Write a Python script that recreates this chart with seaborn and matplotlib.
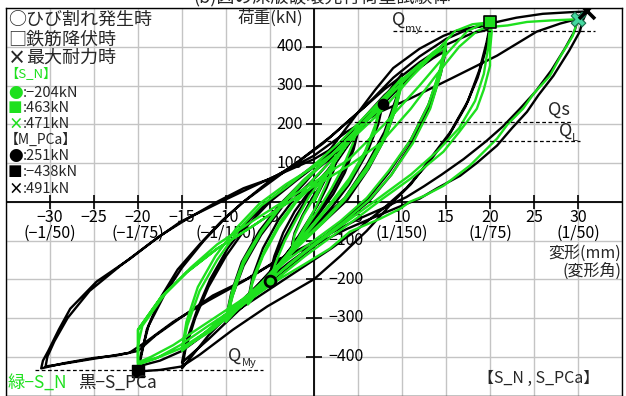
import numpy as np
import pandas as pd
import matplotlib
matplotlib.use("Agg")
import matplotlib.pyplot as plt
from matplotlib.transforms import offset_copy
import seaborn as sns

# ---- S_PCa (black): (displacement mm, load kN) along the loading history
pca_small = [(0, 0), (1, 45), (2, 90), (2.6, 115), (2.3, 85), (1.4, 35), (0.4, -10), (-0.7, -50),
             (-1.8, -90), (-2.5, -110), (-2.2, -80), (-1.3, -35), (-0.2, 10),
             (1, 50), (2.5, 100), (4, 150), (5, 185), (4.4, 140), (3.3, 80), (2, 25), (0.5, -25),
             (-1, -70), (-2.5, -115), (-4, -160), (-5, -190), (-4.4, -145), (-3.3, -90), (-2, -35),
             (-0.5, 20), (1.2, 65), (2.8, 115), (4.2, 160), (5, 180), (4.5, 135), (3.5, 75),
             (2.2, 20), (0.6, -30), (-1.2, -80), (-2.8, -125), (-4.2, -165), (-5, -185),
             (-4.5, -140), (-3.5, -80), (-2.2, -25), (-0.6, 25),
             (1.5, 80), (3.5, 140), (5.5, 195), (7, 235), (7.8, 251), (7.3, 200), (6, 125), (4, 45),
             (2, -15), (0, -65), (-2.5, -125), (-5, -190), (-7.5, -255), (-7, -195), (-5.8, -120),
             (-4, -45), (-2, 15)]
pca_mid = [(0.5, 70), (3, 135), (6, 215), (8.5, 285), (10, 330), (9.3, 265), (8, 180), (6, 95),
           (3.5, 10), (1, -45), (-2, -110), (-5, -180), (-8, -255), (-10, -310), (-9.3, -245),
           (-8, -165), (-6, -85), (-3.5, -10), (-1, 50),
           (2, 130), (5, 200), (8, 275), (10, 315), (9.4, 250), (8.2, 170), (6.2, 85), (3.8, 5),
           (1.2, -50), (-2, -115), (-5, -185), (-8, -250), (-10, -300), (-9.4, -235), (-8.2, -155),
           (-6.2, -75), (-3.8, -5), (-1.2, 55),
           (2, 115), (5, 185), (8, 255), (11, 325), (13.5, 375), (15, 400), (14.3, 335), (13, 250),
           (11, 160), (8.5, 75), (6, 5), (3, -55), (0, -110), (-3, -160), (-6, -215), (-9, -275),
           (-12, -345), (-15, -430), (-14.6, -380), (-13.5, -300), (-12, -220), (-10, -140),
           (-7.5, -60), (-5, 0), (-2, 55),
           (2, 125), (5, 195), (8, 265), (11, 330), (13.5, 370), (15, 390), (14.4, 330), (13.2, 245),
           (11.2, 155), (8.8, 70), (6.2, 0), (3, -60), (0, -115), (-3, -170), (-6, -225), (-9, -290),
           (-12, -355), (-15, -415), (-14.5, -360), (-13.3, -280), (-11.8, -200), (-9.8, -120),
           (-7.3, -45), (-5, 5), (-2, 60)]
pca_20 = [(1, 110), (4, 200), (7, 290), (9, 345), (12, 395), (14.7, 428), (16.2, 441), (18.5, 452),
          (20, 455), (19.6, 410), (18.8, 340), (17.5, 260), (15.5, 180), (13, 105), (11, 45), (9, 0),
          (6, -75), (3, -140), (0, -200), (-5.3, -270), (-9.2, -330), (-13, -395), (-15, -425),
          (-17.5, -434), (-20, -438),
          (-19.6, -395), (-19, -330), (-17.5, -250), (-15.5, -175), (-13, -110), (-10.5, -50),
          (-8, 0), (-5, 55), (-2, 100), (1, 150), (4, 210), (8, 290), (12, 360), (15, 405),
          (18, 435), (20, 445),
          (19.5, 390), (18.6, 320), (17.2, 245), (15.3, 170), (13, 100), (10.5, 35), (8, -15),
          (5, -70), (2, -120), (-1, -165), (-4, -210), (-8, -270), (-12, -335), (-15, -385),
          (-17.5, -410), (-20, -425),
          (-19.5, -380), (-18.8, -320), (-17, -240), (-15, -170), (-12.5, -100), (-10, -40),
          (-8, 0), (-5, 50), (-2, 100), (2, 170), (6, 250), (9, 320), (12, 375), (15, 420),
          (17.5, 445)]
pca_30 = [(20.8, 464), (23, 475), (26, 485), (29, 489), (31, 491),
          (30.5, 465), (30.2, 439), (29, 390), (27.2, 325), (25.5, 275), (24.2, 232), (22.5, 190),
          (20.8, 145), (18.5, 100), (16.6, 67), (14, 35), (12, 8), (10, -10), (8.3, -26), (6, -48),
          (3.75, -70), (0, -113), (-3.9, -147), (-7.6, -199), (-11.5, -242), (-15.2, -300),
          (-18, -345), (-20, -385), (-22.5, -397), (-25, -403), (-28.5, -417), (-31, -430),
          (-30.8, -410), (-30.2, -385), (-29, -330), (-27.7, -276), (-24.7, -206), (-20.9, -147),
          (-17.5, -88), (-14.4, -44), (-11, 0), (-8, 35), (-5, 59), (0, 119), (3.75, 181),
          (7.5, 232), (10.9, 266), (15.5, 317), (20.8, 377), (25.3, 439), (28, 460), (30, 472),
          (29.6, 440), (28.5, 395), (27, 340), (25.2, 285), (23.4, 240), (21.5, 195), (19.5, 155),
          (17, 110), (14.5, 70), (12.5, 40), (10.5, 12), (8, -15), (5, -45), (2, -80), (-1, -115),
          (-4, -150), (-8, -205), (-12, -255), (-16, -310), (-19, -360), (-21, -390), (-25, -405),
          (-29, -420), (-30.5, -425),
          (-30.3, -400), (-29.5, -360), (-28, -300), (-25.5, -230), (-22, -165), (-18.5, -105),
          (-15.2, -52), (-10.3, 3), (-5, 60), (0, 110), (3, 150)]

# ---- S_N (green)
sn_small = [(0, 0), (1, 50), (2, 95), (2.5, 120), (2.2, 90), (1.3, 40), (0.3, -10), (-0.8, -55),
            (-1.8, -95), (-2.5, -120), (-2.2, -85), (-1.2, -35), (0, 10),
            (1, 55), (2.5, 110), (4, 160), (5, 195), (4.4, 150), (3.3, 90), (2, 35), (0.5, -20),
            (-1, -70), (-2.5, -120), (-4, -170), (-5, -204), (-4.4, -160), (-3.3, -100), (-2, -45),
            (-0.5, 15),
            (1.5, 75), (3.5, 140), (5.5, 200), (7.5, 250), (7, 200), (5.8, 130), (4, 60), (2, 0),
            (0, -55), (-2.5, -120), (-5, -190), (-7.5, -265), (-7, -210), (-5.8, -140), (-4, -65),
            (-2, 0),
            (1.8, 85), (3.8, 150), (5.8, 205), (7.5, 240), (6.9, 185), (5.6, 115), (3.8, 45),
            (1.8, -10), (-0.2, -65), (-2.7, -130), (-5.2, -200), (-7.5, -255), (-6.9, -195),
            (-5.6, -125), (-3.8, -50), (-1.8, 10)]
sn_mid = [(0, 60), (3, 130), (6, 210), (8.5, 280), (10, 320), (9.2, 250), (8, 170), (6, 90),
          (3.5, 10), (1, -50), (-2, -115), (-5, -185), (-8, -260), (-10, -310), (-9.2, -240),
          (-8, -160), (-6, -80), (-3.5, -5), (-1, 55),
          (2, 120), (5, 190), (8, 265), (10, 305), (9.3, 240), (8, 160), (6, 80), (3.5, 5), (1, -55),
          (-2, -120), (-5, -190), (-8, -255), (-10, -300), (-9.3, -230), (-8, -150), (-6, -75),
          (-3.5, 0),
          (-1, 60), (2, 120), (5, 190), (8, 260), (11, 330), (13.5, 385), (15, 410), (14.3, 340),
          (13, 250), (11, 160), (8.5, 80), (6, 10), (3, -50), (0, -100), (-3, -150), (-6, -210),
          (-9, -270), (-12, -330), (-15, -385), (-14.4, -320), (-13, -230), (-11, -150),
          (-8.5, -70), (-6, -10), (-3, 40),
          (0, 95), (3, 155), (6, 225), (9, 295), (12, 355), (15, 400), (14.4, 330), (13.2, 240),
          (11.2, 150), (8.8, 70), (6.3, 5), (3.2, -55), (0.2, -105), (-2.8, -160), (-5.8, -220),
          (-8.8, -280), (-11.8, -335), (-15, -380), (-14.5, -310), (-13.2, -220), (-11.2, -140),
          (-8.7, -65), (-6.2, -5), (-3.2, 45)]
sn_20 = [(0, 90), (3.75, 150), (7.5, 230), (11, 320), (14, 390), (16, 440), (18, 458), (20, 463),
         (20.2, 439), (20, 390), (20, 351), (19.3, 290), (18.5, 240), (16.5, 180), (14.7, 129),
         (11, 60), (7.8, 8), (5, -40), (2, -90), (-1, -140), (-4, -195), (-8, -260), (-12, -320),
         (-15.2, -370), (-18, -405), (-20, -420),
         (-20, -380), (-20, -330), (-17.5, -250), (-14.4, -181), (-11, -121), (-6.9, -62),
         (-3.5, -10), (0, 40), (3.75, 90), (7.5, 150), (11, 240), (14, 330), (16.5, 400),
         (18.5, 440), (20, 455),
         (19.8, 400), (19.3, 330), (18.3, 260), (16.5, 190), (14, 130), (11, 70), (8, 20), (5, -30),
         (2, -80), (-1, -130), (-4, -185), (-8, -250), (-12, -310), (-16, -370), (-18.5, -400),
         (-20, -415),
         (-20, -370), (-19.5, -320), (-17, -240), (-14, -170), (-11, -110), (-7, -50), (-3.5, 0),
         (0, 50), (4, 110), (8, 200), (12, 300), (15, 380), (17.4, 440), (19, 458), (20.5, 452)]
sn_30 = [(22, 455), (24.2, 464), (27, 468), (30, 471),
         (29.4, 428), (28, 375), (26.8, 325), (25, 280), (23.75, 240), (22, 200), (20.8, 163),
         (17.7, 93), (14.7, 41), (12.5, 15), (10.9, 0), (9.8, -18), (7.5, -44), (4.1, -77),
         (1.8, -121), (-1, -160), (-3.9, -199), (-6.5, -240), (-9.5, -290), (-12.5, -340),
         (-15.2, -379), (-17.5, -400), (-19.4, -413), (-20, -423),
         (-20, -380), (-20, -330), (-17.5, -250), (-14.4, -181), (-11, -121), (-6.9, -62),
         (-3.5, -10), (-1, 25)]

# ---- characteristic points (displacement mm, load kN)
crack_sn, crack_pca = (-5, -204), (7.8, 251)
yield_sn, yield_pca = (20, 463), (-20, -438)
max_sn, max_pca = (30, 471), (31, 491)

# ---- reference load levels (kN) and their displacement spans (mm)
level_loads = [440, 207, 157, -434]
level_x0 = [9.0, 3.9, 1.5, -31.7]
level_x1 = [31.9, 29.4, 30.2, -5.8]

# ---- axis ticks and labels
x_ticks = [-30, -25, -20, -15, -10, -5, 5, 10, 15, 20, 25, 30]
x_angle = {-30: "(−1/50)", -20: "(−1/75)", -10: "(−1/150)",
           10: "(1/150)", 20: "(1/75)", 30: "(1/50)"}
y_ticks = [-400, -300, -200, -100, 100, 200, 300, 400]

GREEN = "#1ee01e"
W, H = 626, 396

sns.set_style("white")
plt.rcParams["font.family"] = ["Noto Sans CJK JP", "DejaVu Sans"]
plt.rcParams["axes.unicode_minus"] = True

fig = plt.figure(figsize=(W / 100, H / 100), dpi=100)
ax = fig.add_axes([6 / W, 0.5 / H, 616 / W, 387.5 / H])
ax.set_xlim(-35, 35)
ax.set_ylim(-500, 500)

ax.set_xticks(np.arange(-35, 36, 5))
ax.set_yticks(np.arange(-500, 501, 100))
ax.grid(True, color="#c4c4c4", lw=1.0)
ax.set_axisbelow(True)
ax.tick_params(length=0, labelbottom=False, labelleft=False)
for s in ax.spines.values():
    s.set_color("black")
    s.set_linewidth(1.0)

# central axes with crossing tick marks
ax.axhline(0, color="black", lw=1.3, zorder=1.5)
ax.axvline(0, color="black", lw=1.3, zorder=1.5)
ax.plot(x_ticks, [0] * len(x_ticks), ls="none", marker="|", ms=9.5, mew=1.2,
        color="black", zorder=1.5)
ax.plot([0] * len(y_ticks), y_ticks, ls="none", marker="_", ms=12, mew=1.2,
        color="black", zorder=1.5)

tick_font = dict(size=11.5, color="black", zorder=1)
for v in x_ticks:
    lab = f"−{abs(v)}" if v < 0 else f"{v}"
    tr = offset_copy(ax.transData, fig=fig, x=0, y=-16, units="dots")
    ax.text(v, 0, lab, transform=tr, ha="center", va="center", **tick_font)
    if v in x_angle:
        tr2 = offset_copy(ax.transData, fig=fig, x=0, y=-32, units="dots")
        ax.text(v, 0, x_angle[v], transform=tr2, ha="center", va="center", **tick_font)
for v in y_ticks:
    if v > 0:
        tr = offset_copy(ax.transData, fig=fig, x=-11, y=0, units="dots")
        ax.text(0, v, f"{v}", transform=tr, ha="right", va="center", **tick_font)
    else:
        tr = offset_copy(ax.transData, fig=fig, x=14, y=0, units="dots")
        ax.text(0, v, f"−{abs(v)}", transform=tr, ha="left", va="center", **tick_font)

# hysteresis curves
pca_path = pca_small + pca_mid + pca_20 + pca_30
sn_path = sn_small + sn_mid + sn_20 + sn_30
df = pd.concat([
    pd.DataFrame(pca_path, columns=["disp", "load"]).assign(specimen="S_PCa"),
    pd.DataFrame(sn_path, columns=["disp", "load"]).assign(specimen="S_N"),
], ignore_index=True)
sns.lineplot(data=df, x="disp", y="load", hue="specimen",
             hue_order=["S_PCa", "S_N"], palette={"S_PCa": "black", "S_N": GREEN},
             sort=False, estimator=None, lw=1.7, legend=False, ax=ax, zorder=2)
ax.set_xlabel("")
ax.set_ylabel("")

# reference load levels
for x0, x1, q in zip(level_x0, level_x1, level_loads):
    ax.plot([x0, x1], [q, q], color="black", lw=0.9, ls=(0, (3, 2)), zorder=3)

# characteristic points
ax.scatter(*crack_pca, s=55, color="black", zorder=5)
ax.scatter(*crack_sn, s=60, facecolor=GREEN, edgecolor="black", lw=2, zorder=5)
ax.scatter(*yield_sn, s=75, marker="s", facecolor=GREEN, edgecolor="black", lw=1.2, zorder=5)
ax.scatter(*yield_pca, s=70, marker="s", color="black", zorder=5)
ax.scatter(*max_sn, s=110, marker="X", facecolor="#44d8a0", edgecolor="#1a6a4a", lw=0.8, zorder=5)
ax.plot(*max_pca, marker="x", ms=12, mew=2.6, color="black", zorder=6)


def ftext(px, py, s, **kw):
    kw.setdefault("va", "center")
    kw.setdefault("ha", "left")
    fig.text(px / W, 1 - py / H, s, **kw)


# legend block
ftext(8, 20, "○ひび割れ発生時", size=13)
ftext(8, 39.5, "□鉄筋降伏時", size=13)
ftext(8, 58, "×", size=13, fontweight="bold")
ftext(26, 58, "最大耐力時", size=13)
ftext(5, 75, "【S_N】", size=9.5, color=GREEN)
rows = [(93, "●", GREEN, ":−204kN"), (108, "■", GREEN, ":463kN"),
        (124, "×", GREEN, ":471kN"), (156, "●", "black", ":251kN"),
        (172, "■", "black", ":−438kN"), (189, "×", "black", ":491kN")]
for py, sym, col, txt in rows:
    ftext(8, py, sym, size=10.5, color=col, fontweight="bold")
    ftext(23, py, txt, size=10.5)
ftext(5, 140, "【M_PCa】", size=10)

# axis captions
ftext(270, 18, "荷重(kN)", size=12, ha="center")
ftext(621, 253, "変形(mm)", size=11.5, ha="right")
ftext(621, 271, "(変形角)", size=11.5, ha="right")

# level labels
ftext(392, 20, "Q", size=13)
ftext(405, 29, "my", size=8)
ftext(548, 110, "Qs", size=13)
ftext(559, 131, "Q", size=13)
ftext(572, 138, "L", size=8)
ftext(228, 356, "Q", size=13)
ftext(242, 363, "My", size=8)

# specimen captions
ftext(8, 383, "緑−S_N", size=12.5, color=GREEN)
ftext(78, 383, "黒−S_PCa", size=12.5)
ftext(478, 378, "【S_N , S_PCa】", size=11.5)

# heading (runs off the top edge)
fig.text(322 / W, 1 - 6 / H, "(b)図の床版破壊先行荷重試験体", ha="center", va="bottom", size=13)

fig.savefig("out.png", dpi=100)
